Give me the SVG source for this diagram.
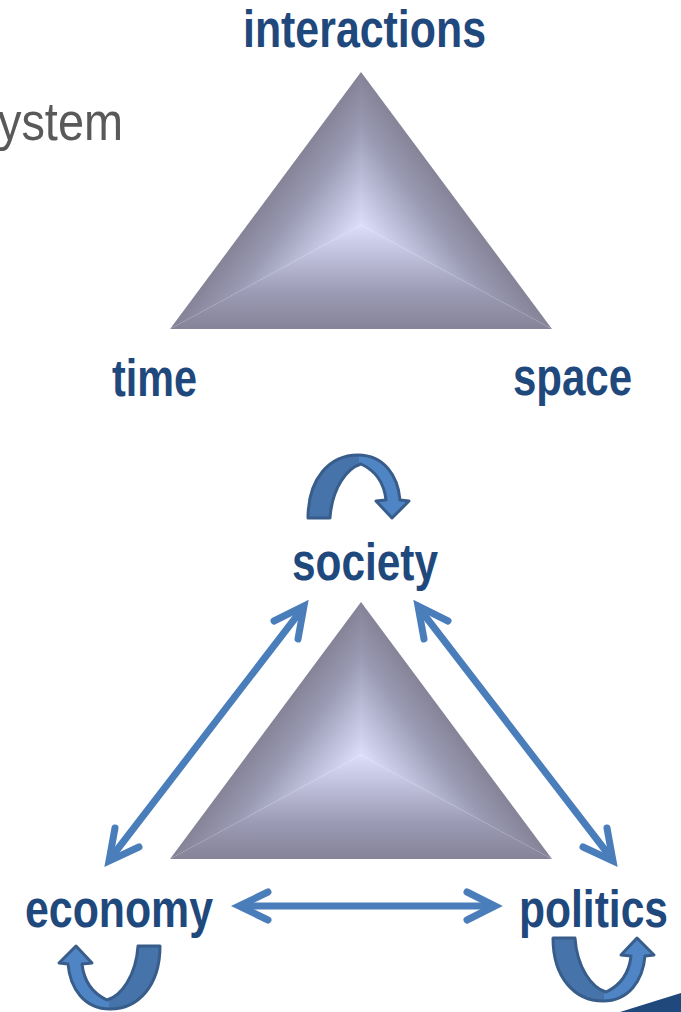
<svg xmlns="http://www.w3.org/2000/svg" xmlns:xlink="http://www.w3.org/1999/xlink" width="681" height="1012" viewBox="0 0 681 1012">
<style>
.lbl{font-family:"Liberation Sans",Arial,sans-serif;font-weight:bold;font-size:51px;fill:#1f497d}
.sys{font-family:"Liberation Sans",Arial,sans-serif;font-size:54px;fill:#595959}
.conn{fill:none;stroke:#4a7ebb;stroke-width:7;stroke-linecap:round;stroke-linejoin:miter}
.curve{stroke:#385d8a;stroke-width:3;stroke-linejoin:round}
</style>
<defs>
<linearGradient id="gL" gradientUnits="userSpaceOnUse" x1="287.7" y1="170.5" x2="361" y2="225">
<stop offset="0" stop-color="#858397"/><stop offset="0.35" stop-color="#9a9ab4"/><stop offset="1" stop-color="#dcdefa"/>
</linearGradient>
<linearGradient id="gR" gradientUnits="userSpaceOnUse" x1="434.3" y1="170.5" x2="361" y2="225">
<stop offset="0" stop-color="#858397"/><stop offset="0.35" stop-color="#9a9ab4"/><stop offset="1" stop-color="#dcdefa"/>
</linearGradient>
<linearGradient id="gB" gradientUnits="userSpaceOnUse" x1="361" y1="329" x2="361" y2="225">
<stop offset="0" stop-color="#858397"/><stop offset="0.35" stop-color="#9c9bb6"/><stop offset="1" stop-color="#dcdefa"/>
</linearGradient>
<linearGradient id="gC" gradientUnits="userSpaceOnUse" x1="308" y1="0" x2="409" y2="0">
<stop offset="0" stop-color="#4573aa"/><stop offset="0.5" stop-color="#4573aa"/><stop offset="0.5" stop-color="#4f85c4"/><stop offset="1" stop-color="#4f85c4"/>
</linearGradient>
<g id="pyr">
<polygon points="361,72 170,329 361,225" fill="url(#gL)"/>
<polygon points="361,72 552,329 361,225" fill="url(#gR)"/>
<polygon points="170,329 552,329 361,225" fill="url(#gB)"/>
</g>
<path id="carrow" class="curve" fill="url(#gC)" d="M 308 518 C 308 478 330 455 358 455 C 384 455 398 476 400 500 L 409 501 L 392 518 L 376 501 L 386 500 C 384 482 374 470 361 464 C 347 468 332 488 330 518 Z"/>
</defs>

<text class="sys" x="-2" y="140" textLength="125" lengthAdjust="spacingAndGlyphs">ystem</text>

<g id="triangle-top"><use xlink:href="#pyr"/></g>
<g id="triangle-bottom"><use xlink:href="#pyr" transform="translate(0,530)"/></g>

<g id="node-interactions"><text class="lbl" x="243" y="47" textLength="243" lengthAdjust="spacingAndGlyphs">interactions</text></g>
<g id="node-time"><text class="lbl" x="112" y="396" textLength="85" lengthAdjust="spacingAndGlyphs">time</text></g>
<g id="node-space"><text class="lbl" x="513" y="395" textLength="119" lengthAdjust="spacingAndGlyphs">space</text></g>
<g id="node-society"><text class="lbl" x="292" y="580" textLength="146" lengthAdjust="spacingAndGlyphs">society</text></g>
<g id="node-economy"><text class="lbl" x="25" y="927" textLength="188" lengthAdjust="spacingAndGlyphs">economy</text></g>
<g id="node-politics"><text class="lbl" x="519" y="927" textLength="149" lengthAdjust="spacingAndGlyphs">politics</text></g>

<g id="connectors">
<line class="conn" x1="303" y1="608" x2="110" y2="859"/>
<polyline class="conn" points="274,621 304,606 298,639"/>
<polyline class="conn" points="115,828 109,861 139,847"/>
<line class="conn" x1="419" y1="608" x2="612" y2="859"/>
<polyline class="conn" points="448,621 418,606 424,639"/>
<polyline class="conn" points="607,828 613,861 583,847"/>
<line class="conn" x1="241" y1="906" x2="493" y2="906"/>
<polyline class="conn" points="268,892 239,906 268,920"/>
<polyline class="conn" points="467,892 495,906 467,920"/>
<use xlink:href="#carrow"/>
<use xlink:href="#carrow" transform="translate(468,1464) scale(-1,-1)"/>
<use xlink:href="#carrow" transform="translate(245,1456) scale(1,-1)"/>
</g>

<polygon points="620,1012 681,993 681,1012" fill="#1f497d"/>
</svg>
